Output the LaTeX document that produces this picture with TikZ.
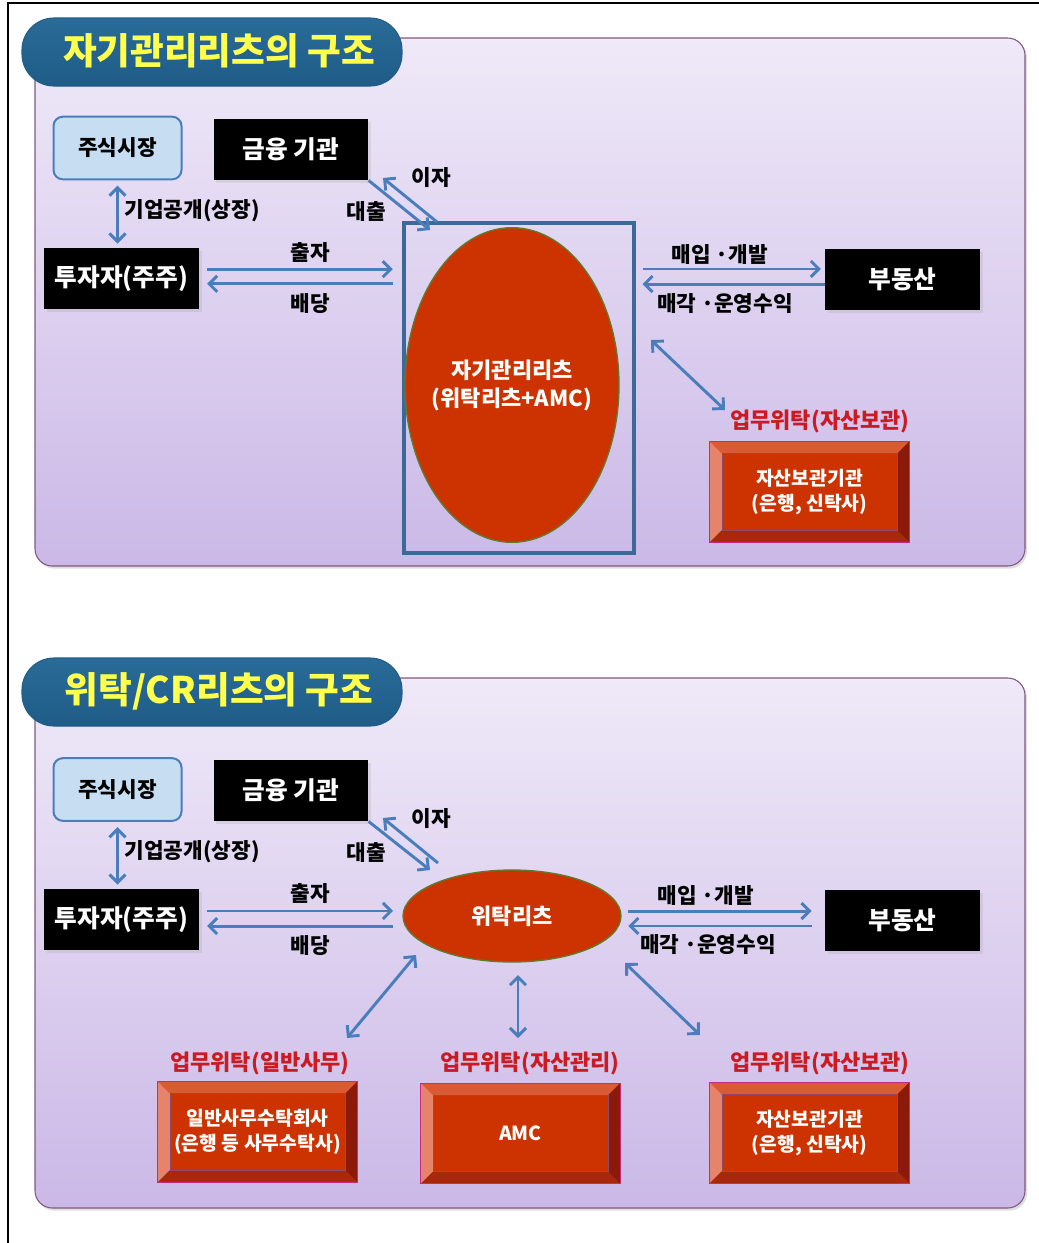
\documentclass[tikz,border=0pt]{standalone}
\usepackage{fontspec}
\setmainfont{Noto Sans CJK KR}
\usetikzlibrary{positioning, calc, shapes.geometric, arrows.meta, shadows}
\definecolor{xblue}{HTML}{4A7EBB}
\definecolor{xframe}{HTML}{3B6A98}
\definecolor{xface}{HTML}{CC3300}
\definecolor{xred}{HTML}{CC1A22}
\definecolor{xolive}{HTML}{5E7B2E}
\definecolor{xgold}{HTML}{FFFF4D}
\definecolor{xpaneltop}{HTML}{EFE9F8}
\definecolor{xpanelbot}{HTML}{CBB8E7}
\definecolor{xbantop}{HTML}{2A6B98}
\definecolor{xbanmid}{HTML}{93C6DF}
\definecolor{xbanbot}{HTML}{1F5C88}
\definecolor{xstock}{HTML}{C6DDF2}
\definecolor{xbevtop}{HTML}{D95A33}
\definecolor{xbevleft}{HTML}{E5846A}
\definecolor{xbevright}{HTML}{8B1A0A}
\definecolor{xbevbot}{HTML}{A8280A}
\tikzset{
	arrow/.style={line width=2.2pt, xblue, -{Straight Barb[length=6pt,width=12pt]}},
	dblarrow/.style={line width=2.2pt, xblue, {Straight Barb[length=6pt,width=12pt]}-{Straight Barb[length=6pt,width=12pt]}},
	panel/.style={draw=gray!70!violet, line width=0.8pt, rounded corners=13pt, top color=xpaneltop, bottom color=xpanelbot, drop shadow={shadow xshift=1.5pt, shadow yshift=-2pt, opacity=0.25}},
	banner/.style={draw=xbanbot, line width=0.8pt, rounded corners=24pt, top color=xbantop, middle color=xbanmid, bottom color=xbanbot, minimum width=285pt, minimum height=51pt},
	titletext/.style={font=\bfseries\fontsize{27.5pt}{29pt}\selectfont},
	blackbox/.style={fill=black, text=white, minimum width=116pt, minimum height=46pt, font=\bfseries\fontsize{18.5pt}{20pt}\selectfont, drop shadow={shadow xshift=2pt, shadow yshift=-2pt, opacity=0.15}},
	stockbox/.style={draw=xblue, line width=1.5pt, fill=xstock, rounded corners=7pt, minimum width=96pt, minimum height=47pt, font=\bfseries\fontsize{16pt}{18pt}\selectfont},
	reit/.style={ellipse, draw=xolive, line width=1pt, fill=xface, inner sep=0pt},
	reittext/.style={text=white, align=center, font=\bfseries\fontsize{16.5pt}{21pt}\selectfont},
	bevelbox/.style={fill=xface, text=white, align=center, minimum width=149pt, minimum height=75pt, font=\bfseries\fontsize{14.5pt}{19pt}\selectfont},
	lbl/.style={font=\bfseries\fontsize{16pt}{18pt}\selectfont},
	redlbl/.style={text=xred, font=\bfseries\fontsize{16.5pt}{18pt}\selectfont},
}
\newcommand{\bevel}[1]{%
	\fill[xbevtop] (#1.north west) -- (#1.north east) -- ([shift={(-9pt,-9pt)}]#1.north east) -- ([shift={(9pt,-9pt)}]#1.north west) -- cycle;
	\fill[xbevleft] (#1.north west) -- ([shift={(9pt,-9pt)}]#1.north west) -- ([shift={(9pt,9pt)}]#1.south west) -- (#1.south west) -- cycle;
	\fill[xbevright] (#1.north east) -- ([shift={(-9pt,-9pt)}]#1.north east) -- ([shift={(-9pt,9pt)}]#1.south east) -- (#1.south east) -- cycle;
	\fill[xbevbot] (#1.south west) -- ([shift={(9pt,9pt)}]#1.south west) -- ([shift={(-9pt,9pt)}]#1.south east) -- (#1.south east) -- cycle;
	\draw[magenta!50!black, line width=0.6pt] ([shift={(9pt,-9pt)}]#1.north west) rectangle ([shift={(-9pt,9pt)}]#1.south east);
	\draw[magenta!60!violet, line width=0.8pt] (#1.north west) rectangle (#1.south east);
}

\begin{document}
\begin{tikzpicture}[x=0.75pt, y=-0.75pt]
	\useasboundingbox (0,0) rectangle (1039,1243);
	\draw[line width=1pt] (8,1243) -- (8,3) -- (1039,3);

	% panel 1: self-managed REIT
	\draw[panel] (35,38) rectangle (1025,566);
	\node[banner] (banner1) at (212,52) {};
	\node[titletext, text=xgold] (title1) at (219,51) {자기관리리츠의 구조};

	\node[stockbox] (stock1) at (117.5,148) {주식시장};
	\node[blackbox] (bank1) at (291,149.5) {금융 기관};
	\node[blackbox] (inv1) at (121.5,278.5) {투자자(주주)};
	\node[blackbox] (estate1) at (902.5,279.5) {부동산};
	\node[draw=xframe, line width=2.8pt, minimum width=172.5pt, minimum height=247.5pt] (frame1) at (519,388) {};
	\node[reit, minimum width=160.5pt, minimum height=236pt] (reit1) at (512,385) {};
	\node[reittext] (reit1txt) at (reit1) {자기관리리츠\\(위탁리츠+AMC)};
	\node[bevelbox] (cust1) at (809.5,492) {자산보관기관\\(은행, 신탁사)};
	\bevel{cust1}
	\node[redlbl] (custlbl1) at (820,421) {업무위탁(자산보관)};

	\draw[dblarrow, shorten <=4pt, shorten >=3pt] (stock1.south) -- (stock1.south |- inv1.north);
	\node[lbl, anchor=west] (ipo1) at (120,211) {기업공개(상장)};
	\draw[arrow, shorten <=6pt, shorten >=7pt] ([yshift=7pt]inv1.east) -- ([yshift=7pt]inv1.east -| frame1.west);
	\draw[arrow, shorten <=7pt, shorten >=6pt] ([yshift=-4pt]inv1.east -| frame1.west) -- ([yshift=-4pt]inv1.east);
	\node[lbl] (equity1) at (310,253) {출자};
	\node[lbl] (divid1) at (310,304) {배당};
	\coordinate (loanend1) at (430,230);
	\coordinate (intstart1) at (437,222);
	\coordinate (intend1) at (383,178);
	\draw[arrow] (bank1.south east) -- (loanend1);
	\draw[arrow] (intstart1) -- (intend1);
	\node[lbl] (interest1) at (431,178) {이자};
	\node[lbl] (loan1) at (366,211) {대출};
	\draw[arrow, shorten <=5pt, shorten >=3pt] ([yshift=7.9pt]estate1.west -| frame1.east) -- ([yshift=7.9pt]estate1.west);
	\draw[arrow, shorten <=0pt, shorten >=5pt] ([yshift=-3.4pt]estate1.west) -- ([yshift=-3.4pt]estate1.west -| frame1.east);
	\node[lbl] (buy1) at (720,254) {매입 ·개발};
	\node[lbl] (sell1) at (725,304) {매각 ·운영수익};
	\coordinate (custa1) at (651,340);
	\coordinate (custb1) at (725,410);
	\draw[dblarrow] (custa1) -- (custb1);

	% panel 2: entrusted / CR REIT
	\draw[panel] (35,678) rectangle (1025,1208);
	\node[banner] (banner2) at (212,692) {};
	\node[titletext, text=xgold] (title2) at (219,691) {위탁/CR리츠의 구조};

	\node[stockbox] (stock2) at (117.5,789.5) {주식시장};
	\node[blackbox] (bank2) at (291,790.5) {금융 기관};
	\node[blackbox] (inv2) at (121.5,919.5) {투자자(주주)};
	\node[blackbox] (estate2) at (902.5,920.5) {부동산};
	\node[reit, minimum width=163.5pt, minimum height=69pt] (reit2) at (512,916) {};
	\node[reittext] (reit2txt) at (reit2) {위탁리츠};

	\node[bevelbox] (admin2) at (257.5,1132) {일반사무수탁회사\\(은행 등 사무수탁사)};
	\bevel{admin2}
	\node[bevelbox] (amc2) at (520.5,1133.5) {AMC};
	\bevel{amc2}
	\node[bevelbox] (cust2) at (809.5,1133) {자산보관기관\\(은행, 신탁사)};
	\bevel{cust2}
	\node[redlbl] (adminlbl2) at (260,1063) {업무위탁(일반사무)};
	\node[redlbl] (amclbl2) at (530,1063) {업무위탁(자산관리)};
	\node[redlbl] (custlbl2) at (820,1063) {업무위탁(자산보관)};

	\draw[dblarrow, shorten <=4pt, shorten >=3pt] (stock2.south) -- (stock2.south |- inv2.north);
	\node[lbl, anchor=west] (ipo2) at (120,852) {기업공개(상장)};
	\draw[arrow, shorten <=6pt, shorten >=7pt] ([yshift=6.4pt]inv2.east) -- ([yshift=6.4pt]inv2.east -| reit2.west);
	\draw[arrow, shorten <=7pt, shorten >=6pt] ([yshift=-4.9pt]inv2.east -| reit2.west) -- ([yshift=-4.9pt]inv2.east);
	\node[lbl] (equity2) at (310,894) {출자};
	\node[lbl] (divid2) at (310,946) {배당};
	\coordinate (loanend2) at (430,870);
	\coordinate (intstart2) at (438,863);
	\coordinate (intend2) at (383,818);
	\draw[arrow] (bank2.south east) -- (loanend2);
	\draw[arrow] (intstart2) -- (intend2);
	\node[lbl] (interest2) at (431,819) {이자};
	\node[lbl] (loan2) at (366,852) {대출};
	\draw[arrow, shorten <=5pt, shorten >=10pt] ([yshift=7.1pt]estate2.west -| reit2.east) -- ([yshift=7.1pt]estate2.west);
	\draw[arrow, shorten <=10pt, shorten >=5pt] ([yshift=-4.1pt]estate2.west) -- ([yshift=-4.1pt]estate2.west -| reit2.east);
	\node[lbl] (buy2) at (706,895) {매입 ·개발};
	\node[lbl] (sell2) at (708,945) {매각 ·운영수익};
	\coordinate (admina2) at (416,955);
	\coordinate (adminb2) at (347,1038);
	\draw[dblarrow] (admina2) -- (adminb2);
	\coordinate (amca2) at (518,975);
	\coordinate (amcb2) at (518,1038);
	\draw[dblarrow] (amca2) -- (amcb2);
	\coordinate (custa2) at (625,963);
	\coordinate (custb2) at (700,1035);
	\draw[dblarrow] (custa2) -- (custb2);
\end{tikzpicture}
\end{document}
